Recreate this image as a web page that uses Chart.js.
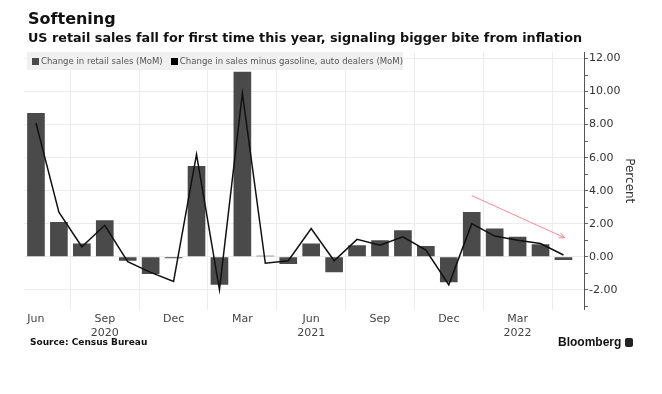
<!DOCTYPE html>
<html>
<head>
<meta charset="utf-8">
<script src="https://cdn.jsdelivr.net/npm/chart.js@4/dist/chart.umd.min.js"></script>
<style>
  html, body { margin: 0; padding: 0; background: #fff; }
  #wrap { position: relative; width: 662px; height: 394px; overflow: hidden; }
  #chart { position: absolute; left: 0; top: 0; }
  .txt { position: absolute; white-space: nowrap; color: #111; }
  #title { left: 28px; top: 9px; font: bold 16px "DejaVu Sans", sans-serif; }
  #subtitle { left: 28px; top: 30px; font: bold 12.75px "DejaVu Sans", sans-serif; }
  #legend { left: 27px; top: 52px; width: 376px; height: 18px; background: #f0f0f0;
            font: 9.5px "Liberation Sans Narrow", "DejaVu Sans Condensed", sans-serif; color: #555;
            line-height: 18px; padding-left: 5px; box-sizing: border-box; }
  #legend span.sq { display: inline-block; width: 7px; height: 7px; margin-right: 2px; vertical-align: -1px; }
  #source { left: 30px; top: 337px; font: bold 9px "DejaVu Sans", sans-serif; }
  #bbg { left: 558px; top: 335px; font: bold 12px "Liberation Sans", sans-serif; }
  #bbg i { display: inline-block; width: 8px; height: 9px; background: #222; border-radius: 2px;
           margin-left: 4px; vertical-align: -1px; }
</style>
</head>
<body>
<div id="wrap">
  <canvas id="chart" width="662" height="394"></canvas>
  <div class="txt" id="title">Softening</div>
  <div class="txt" id="subtitle">US retail sales fall for first time this year, signaling bigger bite from inflation</div>
  <div class="txt" id="legend"><span class="sq" style="background:#4a4a4a"></span>Change in retail sales (MoM)&nbsp;&nbsp;&nbsp;<span class="sq" style="background:#000"></span>Change in sales minus gasoline, auto dealers (MoM)</div>
  <div class="txt" id="source">Source: Census Bureau</div>
  <div class="txt" id="bbg">Bloomberg<i></i></div>
</div>
<script>
// monthly data, Jun 2020 .. May 2022
const months = ['Jun 2020', 'Jul 2020', 'Aug 2020', 'Sep 2020', 'Oct 2020', 'Nov 2020', 'Dec 2020',
  'Jan 2021', 'Feb 2021', 'Mar 2021', 'Apr 2021', 'May 2021', 'Jun 2021', 'Jul 2021', 'Aug 2021',
  'Sep 2021', 'Oct 2021', 'Nov 2021', 'Dec 2021', 'Jan 2022', 'Feb 2022', 'Mar 2022', 'Apr 2022', 'May 2022'];
const retailSales = [8.7, 2.1, 0.8, 2.2, -0.25, -1.05, -0.1, 5.5, -1.7, 11.2, 0.05, -0.45,
  0.8, -0.95, 0.7, 1.0, 1.6, 0.65, -1.55, 2.7, 1.7, 1.2, 0.75, -0.2];
const exGasAuto = [8.1, 2.7, 0.6, 1.9, -0.3, -0.95, -1.5, 6.2, -2.0, 9.9, -0.4, -0.25,
  1.7, -0.25, 1.05, 0.7, 1.2, 0.4, -1.7, 2.0, 1.25, 1.0, 0.8, 0.1];

// x tick positions (month index) and their labels
const xTickPos = [0, 3, 6, 9, 12, 15, 18, 21];
const xTickText = [['Jun'], ['Sep', '2020'], ['Dec'], ['Mar'], ['Jun', '2021'], ['Sep'], ['Dec'], ['Mar', '2022']];
const yTickPos = [-3, -2, -1, 0, 1, 2, 3, 4, 5, 6, 7, 8, 9, 10, 11, 12];

// the pink trend arrow, in (month index, percent)
const arrowFrom = [19.0, 3.7];
const arrowTo = [23.05, 1.15];

const arrowPlugin = {
  id: 'arrow',
  afterDatasetsDraw(chart) {
    const { ctx, scales: { x, y } } = chart;
    const x1 = x.getPixelForValue(arrowFrom[0]), y1 = y.getPixelForValue(arrowFrom[1]);
    const x2 = x.getPixelForValue(arrowTo[0]), y2 = y.getPixelForValue(arrowTo[1]);
    const a = Math.atan2(y2 - y1, x2 - x1);
    ctx.save();
    ctx.strokeStyle = '#ec8c96';
    ctx.lineWidth = 1;
    ctx.beginPath();
    ctx.moveTo(x1, y1);
    ctx.lineTo(x2, y2);
    ctx.moveTo(x2 - 6 * Math.cos(a - 0.45), y2 - 6 * Math.sin(a - 0.45));
    ctx.lineTo(x2, y2);
    ctx.lineTo(x2 - 6 * Math.cos(a + 0.45), y2 - 6 * Math.sin(a + 0.45));
    ctx.stroke();
    ctx.restore();
  }
};

const ctx = document.getElementById('chart').getContext('2d');
new Chart(ctx, {
  type: 'bar',
  data: {
    datasets: [{
      type: 'line',
      label: 'Change in sales minus gasoline, auto dealers (MoM)',
      data: exGasAuto.map((v, i) => ({ x: i, y: v })),
      borderColor: '#111',
      borderWidth: 1.5,
      pointRadius: 0,
      tension: 0,
      order: 0
    }, {
      label: 'Change in retail sales (MoM)',
      data: retailSales.map((v, i) => ({ x: i, y: v })),
      backgroundColor: '#4a4a4a',
      categoryPercentage: 1,
      barPercentage: 0.77,
      order: 1
    }]
  },
  options: {
    responsive: false,
    animation: false,
    layout: { padding: { left: 24.5, top: 52, right: 20, bottom: 51 } },
    plugins: { legend: { display: false }, tooltip: { enabled: false } },
    scales: {
      x: {
        type: 'linear',
        min: -0.5,
        max: 23.9,
        offset: false,
        afterBuildTicks: axis => { axis.ticks = xTickPos.map(v => ({ value: v })); },
        ticks: {
          autoSkip: false,
          maxRotation: 0,
          padding: 3,
          color: '#444',
          font: { family: 'DejaVu Sans', size: 11, lineHeight: 1.25 },
          callback: v => xTickText[xTickPos.indexOf(v)] || ''
        },
        grid: { color: '#ececec', drawTicks: false },
        border: { display: false }
      },
      y: {
        position: 'right',
        min: -3.2,
        max: 12.4,
        afterBuildTicks: axis => { axis.ticks = yTickPos.map(v => ({ value: v })); },
        ticks: {
          autoSkip: false,
          padding: 1,
          color: '#333',
          font: { family: 'DejaVu Sans', size: 11 },
          callback: v => (v % 2 === 0 ? v.toFixed(2) : '')
        },
        grid: {
          color: c => (c.tick && c.tick.value % 2 === 0 ? '#ececec' : 'rgba(0,0,0,0)'),
          tickColor: '#666',
          tickLength: 4
        },
        border: { display: true, color: '#555', width: 1 },
        title: {
          display: true,
          text: 'Percent',
          color: '#333',
          padding: { top: 6, bottom: 0 },
          font: { family: 'DejaVu Sans', size: 12 }
        }
      }
    }
  },
  plugins: [arrowPlugin]
});
</script>
</body>
</html>
